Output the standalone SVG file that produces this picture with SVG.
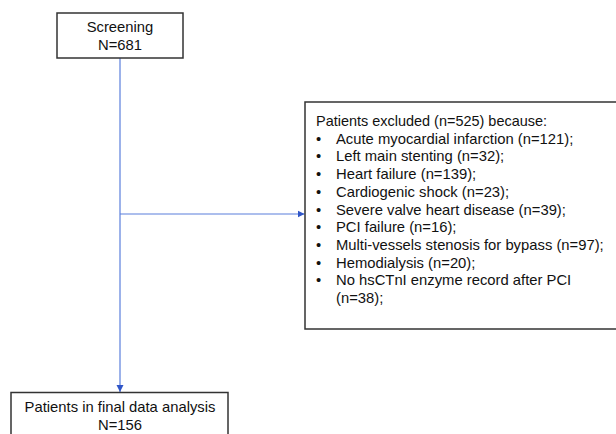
<svg xmlns="http://www.w3.org/2000/svg" width="616" height="434" viewBox="0 0 616 434">
<defs>
<style>
.box{fill:#ffffff;stroke:#333333;stroke-width:1.5}
.t{font-family:"Liberation Sans",Arial,sans-serif;font-size:14.8px;fill:#111111}
.c{text-anchor:middle}
.ln{stroke:#5a7fdc;stroke-width:1.2;fill:none}
</style>
<marker id="arr" markerWidth="8" markerHeight="8" refX="7" refY="4" orient="auto" markerUnits="userSpaceOnUse">
<path d="M0,0.5 L7,4 L0,7.5 Z" fill="#2f55c8"/>
</marker>
</defs>
<rect width="616" height="434" fill="#ffffff"/>
<g id="connectors">
<line class="ln" x1="120" y1="58" x2="120" y2="392" marker-end="url(#arr)"/>
<line class="ln" x1="120" y1="214" x2="304.5" y2="214" marker-end="url(#arr)"/>
</g>
<g id="screening">
<rect class="box" x="57" y="13" width="126" height="45"/>
<text class="t c" x="120" y="32">Screening</text>
<text class="t c" x="120" y="50">N=681</text>
</g>
<g id="excluded">
<rect class="box" x="305" y="102" width="320" height="227"/>
<text class="t" x="316" y="126" textLength="231" lengthAdjust="spacingAndGlyphs">Patients excluded (n=525) because:</text>
<g class="t">
<text x="316" y="143.7">•</text><text x="336" y="143.7">Acute myocardial infarction (n=121);</text>
<text x="316" y="161.4">•</text><text x="336" y="161.4">Left main stenting (n=32);</text>
<text x="316" y="179.1">•</text><text x="336" y="179.1">Heart failure (n=139);</text>
<text x="316" y="196.8">•</text><text x="336" y="196.8">Cardiogenic shock (n=23);</text>
<text x="316" y="214.5">•</text><text x="336" y="214.5">Severe valve heart disease (n=39);</text>
<text x="316" y="232.2">•</text><text x="336" y="232.2">PCI failure (n=16);</text>
<text x="316" y="249.9">•</text><text x="336" y="249.9">Multi-vessels stenosis for bypass (n=97);</text>
<text x="316" y="267.6">•</text><text x="336" y="267.6">Hemodialysis (n=20);</text>
<text x="316" y="285.3">•</text><text x="336" y="285.3">No hsCTnI enzyme record after PCI</text>
<text x="336" y="303">(n=38);</text>
</g>
</g>
<g id="final">
<rect class="box" x="11" y="392.5" width="217" height="50"/>
<text class="t c" x="120" y="411.5">Patients in final data analysis</text>
<text class="t c" x="120" y="430">N=156</text>
</g>
</svg>
